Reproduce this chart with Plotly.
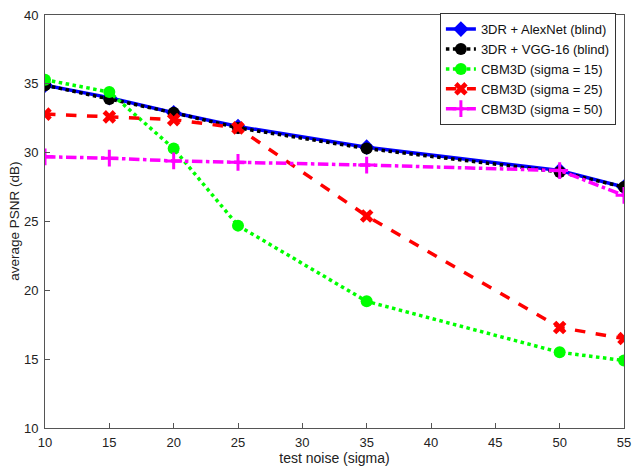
import plotly.graph_objects as go

noise = [10, 15, 20, 25, 35, 50, 55]
alexnet = [34.9, 34.0, 32.9, 31.9, 30.4, 28.7, 27.5]
vgg16 = [34.9, 33.9, 32.9, 31.8, 30.3, 28.6, 27.5]
cbm3d_15 = [35.3, 34.4, 30.3, 24.7, 19.2, 15.5, 14.9]
cbm3d_25 = [32.8, 32.6, 32.4, 31.8, 25.4, 17.3, 16.5]
cbm3d_50 = [29.7, 29.6, 29.4, 29.3, 29.1, 28.7, 26.9]

series = [
    ("3DR + AlexNet (blind)", alexnet, "#0000ff", "solid", "diamond"),
    ("3DR + VGG-16 (blind)", vgg16, "#000000", "dot", "circle"),
    ("CBM3D (sigma = 15)", cbm3d_15, "#00ff00", "dot", "circle"),
    ("CBM3D (sigma = 25)", cbm3d_25, "#ff0000", "dash", "x"),
    ("CBM3D (sigma = 50)", cbm3d_50, "#ff00ff", "dashdot", "cross-thin"),
]

fig = go.Figure()
for name, ys, color, dash, sym in series:
    fig.add_trace(go.Scatter(
        x=noise, y=ys, name=name, mode="lines+markers",
        line=dict(color=color, width=3.5, dash=dash),
        marker=dict(symbol=sym, size=12, color=color,
                    line=dict(color=color, width=3 if sym == "cross-thin" else 0)),
    ))

# the page body keeps its 8px margin, so the figure is kept a bit smaller than the window
axis_style = dict(showgrid=False, zeroline=False, ticks="inside", ticklen=5,
                  showline=True, linecolor="#555", linewidth=1, mirror=True,
                  tickcolor="#555", automargin=False, ticklabeloverflow="allow",
                  tickfont=dict(size=13, color="#222"))

fig.update_xaxes(range=[10, 55], dtick=5, ticklabelstandoff=2,
                 title=dict(text="test noise (sigma)", standoff=2,
                            font=dict(size=14, color="#222")), **axis_style)
fig.update_yaxes(range=[10, 40], dtick=5, ticklabelstandoff=3, **axis_style)

fig.add_annotation(text="average PSNR (dB)", textangle=-90, showarrow=False,
                   xref="paper", yref="paper", x=-0.053, y=0.5,
                   xanchor="center", yanchor="middle",
                   font=dict(size=13.5, color="#222"))

fig.update_layout(
    width=624, height=458,
    margin=dict(l=37, r=8, t=6, b=38),
    plot_bgcolor="white", paper_bgcolor="white",
    font=dict(family="Liberation Sans, Arial, sans-serif"),
    legend=dict(x=0.986, y=1.002, xanchor="right", yanchor="top",
                bgcolor="white", bordercolor="#333", borderwidth=1,
                font=dict(size=13, color="#111"), tracegroupgap=0,
                itemwidth=30),
)

fig.write_html("out.html")
